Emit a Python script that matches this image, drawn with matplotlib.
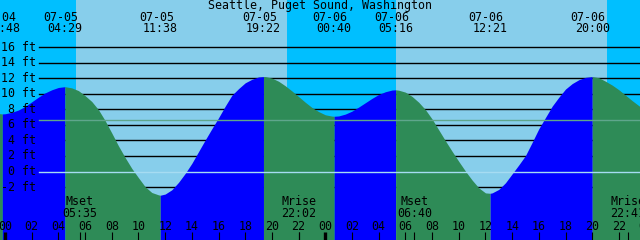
import matplotlib
matplotlib.use("Agg")
import matplotlib.pyplot as plt
import matplotlib.transforms as mtransforms
import numpy as np

title = "Seattle, Puget Sound, Washington"

# Tide extremes (hours after 07-05 00:00, feet)
ext_dates = ["07-04", "07-05", "07-05", "07-05", "07-06", "07-06", "07-06", "07-06"]
ext_times = ["23:48", "04:29", "11:38", "19:22", "00:40", "05:16", "12:21", "20:00"]
ext_hours = [-0.2, 4.483, 11.633, 19.367, 24.667, 29.267, 36.35, 44.0]
ext_heights = [7.4, 10.9, -3.05, 12.2, 7.1, 10.5, -2.8, 12.2]

# Hourly tide heights (feet)
hour_hours = list(range(-1, 49))
hour_heights = [7.6, 7.42, 7.9, 8.95, 10.1, 10.8, 10.75, 9.75, 7.95, 4.95,
                1.8, -0.8, -2.7, -2.9, -1.4, 1.05, 4.05, 6.9, 9.8, 11.4,
                12.15, 12.0, 11.02, 9.63, 8.23, 7.29, 7.14, 7.76, 8.84, 9.9,
                10.47, 10.2, 8.9, 6.75, 3.95, 1.3, -1.1, -2.75, -2.3, -0.3,
                2.05, 5.5, 8.4, 10.6, 11.8, 12.2, 11.6, 10.5, 9.1, 7.9]

# Half-hour tide heights (feet), at -0.5, 0.5, ... 47.5
half_hours = [h + 0.5 for h in range(-1, 48)]
half_heights = [7.45, 7.6, 8.35, 9.55, 10.5, 10.9, 10.4, 9.0, 6.55, 3.3,
                0.4, -1.95, -3.0, -2.35, -0.25, 2.55, 5.5, 8.4, 10.65, 11.85,
                12.2, 11.6, 10.35, 8.9, 7.7, 7.12, 7.38, 8.28, 9.4, 10.25,
                10.45, 9.65, 7.95, 5.35, 2.6, 0.05, -2.1, -2.75, -1.45, 0.85,
                3.75, 6.95, 9.55, 11.3, 12.1, 12.05, 11.1, 9.8, 8.45]

# Sun (hours)
sunrise = [5.32, 29.30]
sunset = [21.15, 45.13]

# Moon events
moon_names = ["Mset", "Mrise", "Mset", "Mrise"]
moon_times = ["05:35", "22:02", "06:40", "22:41"]
moon_hours = [5.583, 22.033, 30.667, 46.683]

# Height axis labels
ft_levels = [-2, 0, 2, 4, 6, 8, 10, 12, 14, 16]
msl = 6.62

hour_ticks = list(range(0, 49, 2))
hour_labels = ["%02d" % (h % 24) for h in hour_ticks]

NIGHT = "#00BFFF"
DAY = "#87CEEB"
RISE = "#0000FF"
FALL = "#2E8B57"

W, H = 640, 240
PXH = 13.346   # px per hour
PXF = 7.78     # px per foot
X0 = -5 / PXH
X1 = (W - 5) / PXH
YT = 171.5 / PXF
YB = (171.5 - H) / PXF

fig = plt.figure(figsize=(6.4, 2.4), dpi=100)
ax = fig.add_axes([0, 0, 1, 1])
ax.set_xlim(X0, X1)
ax.set_ylim(YB, YT)
ax.axis("off")

def ay(py):
    return 1 - py / H

# sky
edges = [X0] + sorted(sunrise + sunset) + [X1]
for i in range(len(edges) - 1):
    col = NIGHT if i % 2 == 0 else DAY
    ax.axvspan(edges[i], edges[i + 1], color=col, lw=0, zorder=0)

# grid lines (behind the water)
for lv in ft_levels:
    if lv == 0:
        continue
    ax.axhline(lv, xmin=39 / W, xmax=1, color="black", lw=1.0, zorder=1)

# tide curve
t = np.array(hour_hours + half_hours + ext_hours, dtype=float)
hgt = np.array(hour_heights + half_heights + ext_heights, dtype=float)
o = np.argsort(t)
t, hgt = t[o], hgt[o]
bounds = [t[0]] + ext_hours + [t[-1]]
for i in range(len(bounds) - 1):
    a, b = bounds[i], bounds[i + 1]
    m = (t >= a - 1e-9) & (t <= b + 1e-9)
    rising = np.interp(b, t, hgt) > np.interp(a, t, hgt)
    ax.fill_between(t[m], YB - 1, hgt[m], color=RISE if rising else FALL,
                    lw=0, zorder=2)

# datum and mean lines
ax.axhline(0, xmin=39 / W, xmax=1, color="#A6DCF2", lw=1.0, zorder=3)
ax.axhline(msl, xmin=39 / W, xmax=1, color="#5FA68C", lw=1.0, zorder=3)

fs = 8.4
fam = "DejaVu Sans Mono"
yt = mtransforms.blended_transform_factory(ax.transAxes, ax.transData)
for lv in ft_levels:
    ax.text(36 / W, lv, "%d ft" % lv, transform=yt,
            ha="right", va="center", fontsize=fs, family=fam, zorder=5)

ax.text(0.5, ay(6), title, transform=ax.transAxes, ha="center", va="center",
        fontsize=fs, family=fam, zorder=5)

bt = mtransforms.blended_transform_factory(ax.transData, ax.transAxes)
for d, tm, hh in zip(ext_dates, ext_times, ext_hours):
    ax.text(hh - 4 / PXH, ay(17.5), d, transform=bt, ha="center", va="center",
            fontsize=fs, family=fam, zorder=5)
    ax.text(hh, ay(29), tm, transform=bt, ha="center", va="center",
            fontsize=fs, family=fam, zorder=5)

for n, tm, hh in zip(moon_names, moon_times, moon_hours):
    ax.text(hh, ay(201.5), n, transform=bt, ha="center", va="center",
            fontsize=fs, family=fam, zorder=5)
    ax.text(hh, ay(213.5), tm, transform=bt, ha="center", va="center",
            fontsize=fs, family=fam, zorder=5)
    ax.plot([hh, hh], [ay(232), ay(241)], transform=bt, color="black", lw=0.8,
            zorder=5, solid_capstyle="butt")

for hh, lab in zip(hour_ticks, hour_labels):
    ax.text(hh, ay(226), lab, transform=bt, ha="center", va="center",
            fontsize=fs, family=fam, zorder=5)
    lw = 2.4 if hh % 24 == 0 else 0.8
    ax.plot([hh, hh], [ay(232), ay(241)], transform=bt, color="black", lw=lw,
            zorder=5, solid_capstyle="butt")

fig.savefig("out.png", dpi=100)
